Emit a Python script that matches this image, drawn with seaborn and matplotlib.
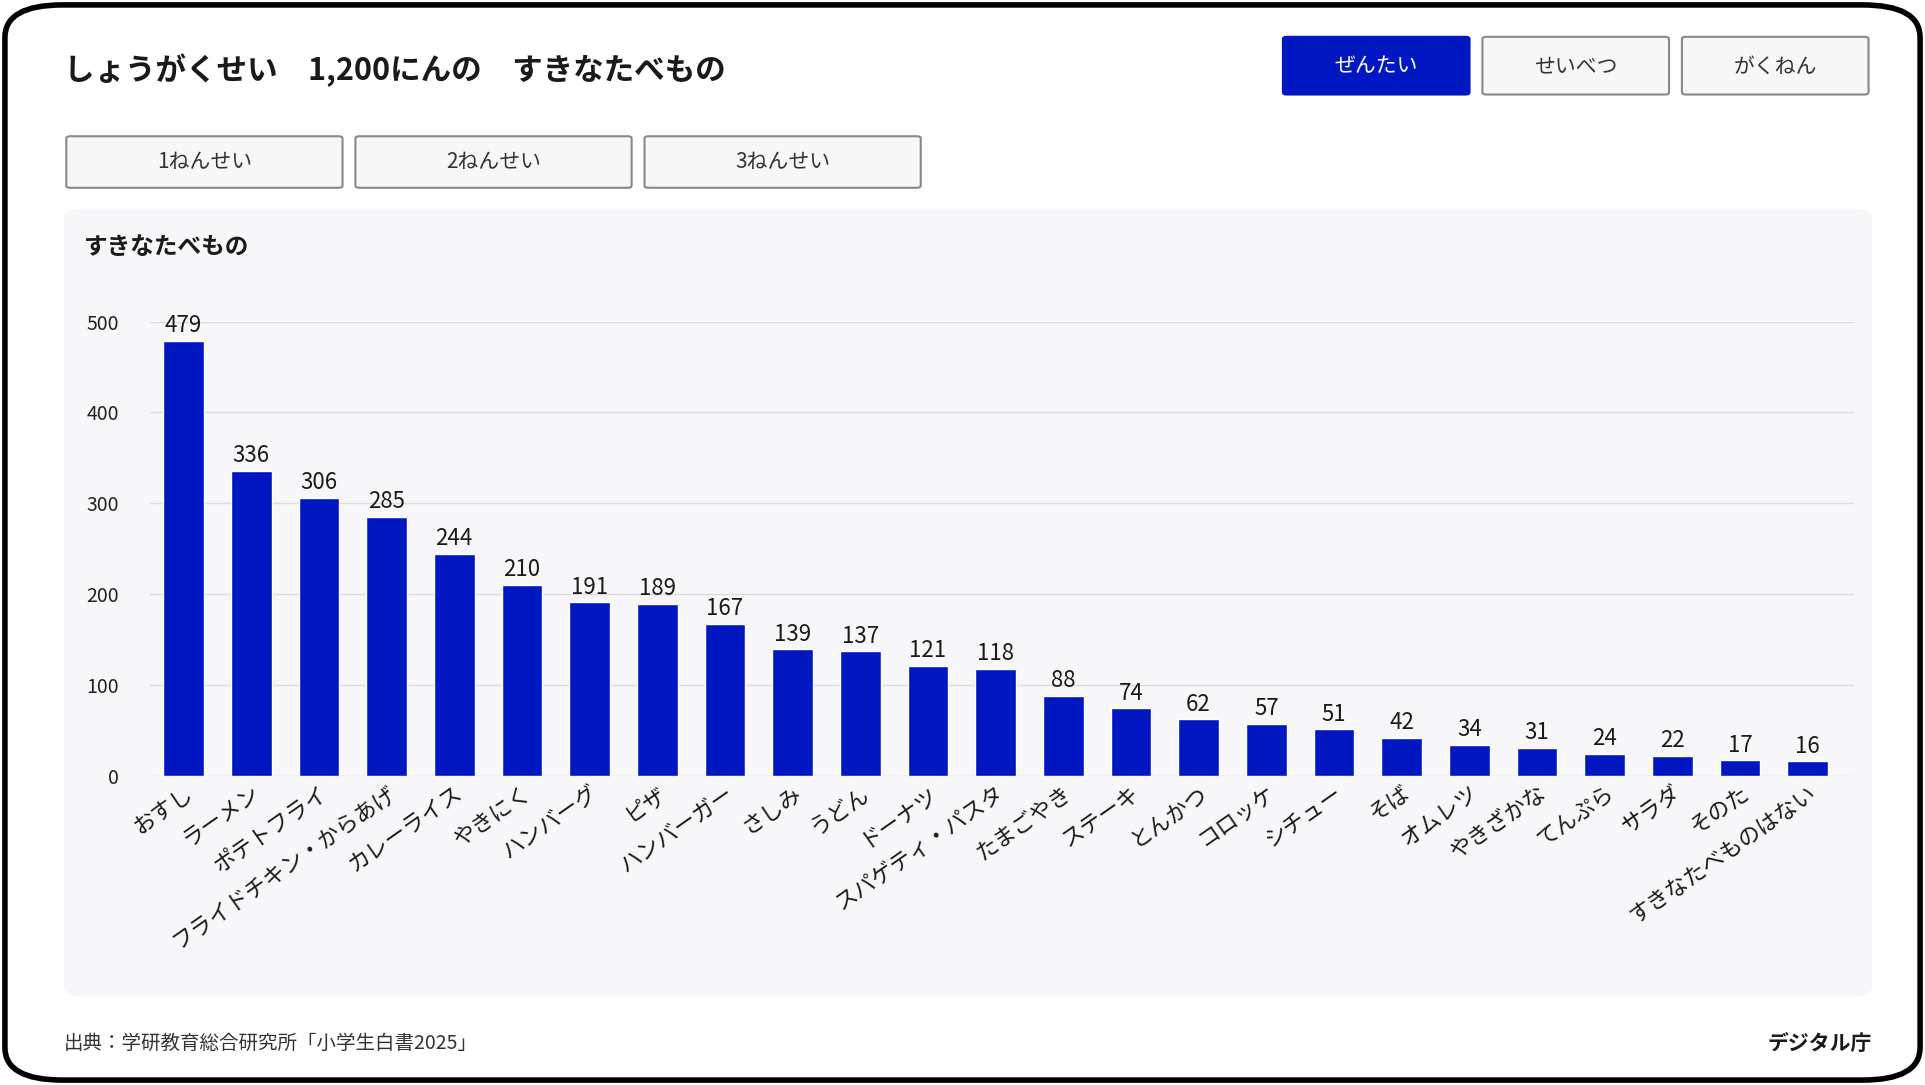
import matplotlib
matplotlib.use("Agg")
import matplotlib.pyplot as plt
from matplotlib.patches import FancyBboxPatch
import seaborn as sns
import pandas as pd

foods = ["おすし", "ラーメン", "ポテトフライ", "フライドチキン・からあげ", "カレーライス", "やきにく",
         "ハンバーグ", "ピザ", "ハンバーガー", "さしみ", "うどん", "ドーナツ", "スパゲティ・パスタ",
         "たまごやき", "ステーキ", "とんかつ", "コロッケ", "シチュー", "そば", "オムレツ", "やきざかな",
         "てんぷら", "サラダ", "そのた", "すきなたべものはない"]
counts = [479, 336, 306, 285, 244, 210, 191, 189, 167, 139, 137, 121, 118,
          88, 74, 62, 57, 51, 42, 34, 31, 24, 22, 17, 16]
yticks = [0, 100, 200, 300, 400, 500]
top_buttons = ["ぜんたい", "せいべつ", "がくねん"]
grade_buttons = ["1ねんせい", "2ねんせい", "3ねんせい"]

BLUE = "#0017C1"
W, H = 1568, 884

sns.set_theme(style="white")
plt.rcParams["font.family"] = ["Noto Sans CJK JP", "DejaVu Sans"]

fig = plt.figure(figsize=(19.25, 10.85), dpi=100)

def fx(x): return x / W
def fy(y): return 1 - y / H

# outer frame
fig.patches.append(FancyBboxPatch((fx(4), fy(880)), fx(1560), 876 / H,
                                  boxstyle="round,pad=0,rounding_size=0.03",
                                  transform=fig.transFigure, fc="white", ec="black", lw=4, zorder=-2))
# chart panel
fig.patches.append(FancyBboxPatch((fx(52), fy(812)), fx(1473), 642 / H,
                                  boxstyle="round,pad=0,rounding_size=0.01",
                                  transform=fig.transFigure, fc="#f7f7f9", ec="none", zorder=-1))

fig.text(fx(52), fy(57), "しょうがくせい　1,200にんの　すきなたべもの", fontsize=22,
         fontweight="bold", va="center", color="#1a1a1a")

for i, lab in enumerate(top_buttons):
    x0 = 1045 + i * 162.5
    active = i == 0
    fig.patches.append(FancyBboxPatch((fx(x0), fy(77)), fx(152), 47 / H,
                                      boxstyle="round,pad=0,rounding_size=0.002",
                                      transform=fig.transFigure,
                                      fc=BLUE if active else "#f7f7f7",
                                      ec=BLUE if active else "#888888", lw=1.5))
    fig.text(fx(x0 + 76), fy(54), lab, fontsize=15, ha="center", va="center",
             color="white" if active else "#333333")

for i, lab in enumerate(grade_buttons):
    x0 = 54 + i * 235.5
    fig.patches.append(FancyBboxPatch((fx(x0), fy(153)), fx(225), 42 / H,
                                      boxstyle="round,pad=0,rounding_size=0.002",
                                      transform=fig.transFigure, fc="#f7f7f7", ec="#888888", lw=1.5))
    fig.text(fx(x0 + 112.5), fy(132), lab, fontsize=15, ha="center", va="center", color="#333333")

fig.text(fx(68), fy(201), "すきなたべもの", fontsize=17, fontweight="bold", va="center", color="#1a1a1a")

ax = fig.add_axes([fx(122), fy(632), fx(1510 - 122), (632 - 262) / H])
ax.set_zorder(5)
ax.set_facecolor("none")
df = pd.DataFrame({"food": foods, "count": counts})
sns.barplot(data=df, x="food", y="count", color=BLUE, saturation=1, width=0.6, ax=ax)
ax.set_xlim(-0.5, (1510 - 150) / 55.1)
ax.set_ylim(0, 500)
ax.set_yticks(yticks)
ax.yaxis.grid(True, color="#dddddd", lw=1)
ax.set_axisbelow(True)
for s in ax.spines.values():
    s.set_visible(False)
ax.set_xlabel("")
ax.set_ylabel("")
ax.tick_params(axis="y", labelsize=14, colors="#222222", length=0, pad=22)
ax.tick_params(axis="x", length=0, pad=4)
ax.set_xticks(range(len(foods)))
ax.set_xticklabels(foods, rotation=35, ha="right", rotation_mode="anchor", fontsize=16, color="#1a1a1a")
for i, v in enumerate(counts):
    ax.text(i, v + 4, str(v), ha="center", va="bottom", fontsize=16, color="#1a1a1a", clip_on=False)

fig.text(fx(52), fy(850), "出典：学研教育総合研究所「小学生白書2025」", fontsize=14, va="center", color="#333333")
fig.text(fx(1525), fy(850), "デジタル庁", fontsize=15, fontweight="bold", va="center", ha="right", color="#1a1a1a")

fig.savefig("out.png", dpi=100)
